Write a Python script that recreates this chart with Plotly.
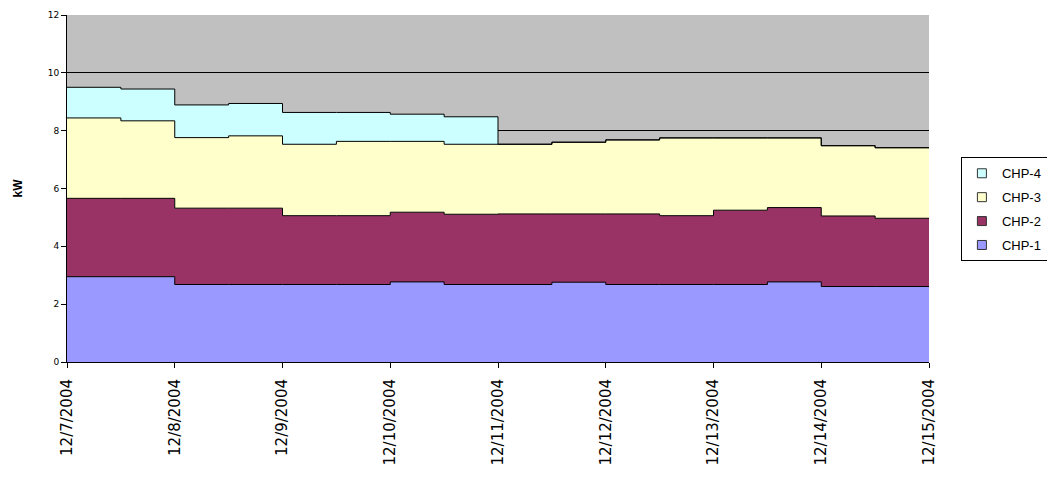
import pandas as pd
import plotly.graph_objects as go

# Half-day step values (12/7 AM ... 12/14 PM)
start_date = "2004-12-07"
chp1 = [2.95, 2.95, 2.68, 2.68, 2.68, 2.68, 2.77, 2.68, 2.68, 2.76, 2.68, 2.68, 2.68, 2.77, 2.61, 2.61]
chp2 = [2.71, 2.71, 2.64, 2.64, 2.38, 2.38, 2.41, 2.43, 2.44, 2.36, 2.44, 2.38, 2.57, 2.57, 2.44, 2.36]
chp3 = [2.78, 2.68, 2.44, 2.50, 2.47, 2.57, 2.45, 2.42, 2.41, 2.48, 2.56, 2.69, 2.50, 2.41, 2.43, 2.44]
chp4 = [1.06, 1.10, 1.13, 1.12, 1.10, 1.00, 0.94, 0.95, 0, 0, 0, 0, 0, 0, 0, 0]
series_names = ["CHP-1", "CHP-2", "CHP-3", "CHP-4"]
tick_labels = ["12/7/2004", "12/8/2004", "12/9/2004", "12/10/2004", "12/11/2004",
               "12/12/2004", "12/13/2004", "12/14/2004", "12/15/2004"]

colors = ["#9999FF", "#993366", "#FFFFCC", "#CCFFFF"]

x = pd.date_range(start_date, periods=len(chp1) + 1, freq="12h")
tick_dates = pd.date_range(start_date, periods=len(tick_labels), freq="D")

fig = go.Figure()
for name, vals, col in zip(series_names, [chp1, chp2, chp3, chp4], colors):
    fig.add_trace(go.Scatter(
        x=x, y=vals + [vals[-1]], name=name, mode="lines",
        stackgroup="one", line=dict(shape="hv", color="black", width=1),
        fillcolor=col, showlegend=False,
    ))
# legend entries with square swatches (top-to-bottom CHP-4 ... CHP-1)
for rank, (name, col) in enumerate(zip(series_names[::-1], colors[::-1])):
    fig.add_trace(go.Scatter(
        x=[None], y=[None], name=name, mode="markers", legendgroup="lg" + name,
        legendrank=rank + 1,
        marker=dict(symbol="square", size=9, color=col, line=dict(color="#333333", width=1)),
    ))

# body margin of the page is 8px, so margins are offset accordingly
fig.update_layout(
    width=1055, height=487,
    margin=dict(l=59, r=134, t=7, b=133),
    paper_bgcolor="white", plot_bgcolor="#C0C0C0",
    font=dict(family="Arial, Liberation Sans", color="black"),
    legend=dict(
        traceorder="grouped", x=1.037, y=0.44, xanchor="left", yanchor="middle",
        bordercolor="black", borderwidth=1, bgcolor="white",
        font=dict(size=13, family="Arial, Liberation Sans"), itemwidth=30,
        tracegroupgap=4,
    ),
    showlegend=True,
)
fig.update_xaxes(
    range=[tick_dates[0], tick_dates[-1]], tickvals=tick_dates, ticktext=tick_labels,
    tickangle=-90, ticks="outside", ticklen=5, tickcolor="black",
    showline=True, linecolor="black", linewidth=1, showgrid=False,
    tickfont=dict(size=15, family="DejaVu Sans"), automargin=False,
    ticklabelstandoff=5,
)
fig.update_yaxes(
    range=[0, 12], dtick=2, ticks="outside", ticklen=5, tickcolor="black",
    showline=True, linecolor="black", linewidth=1,
    showgrid=True, gridcolor="black", gridwidth=1, zeroline=False,
    tickfont=dict(size=9, family="Arial Black, DejaVu Sans", color="black"),
    title=dict(text="<b>kW</b>", font=dict(size=12), standoff=22),
    automargin=False,
)
fig.write_html("out.html")
